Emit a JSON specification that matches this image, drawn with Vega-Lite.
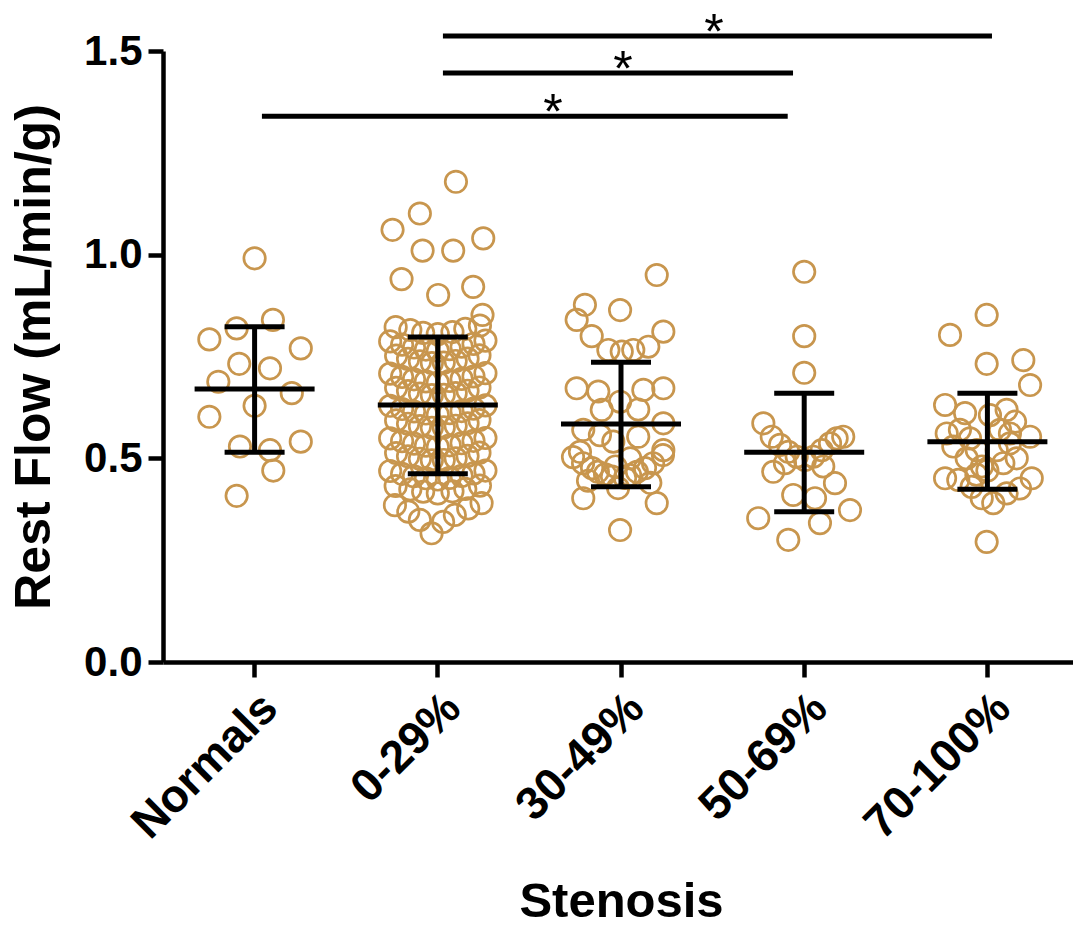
{
  "$schema": "https://vega.github.io/schema/vega-lite/v6.json",
  "width": 916,
  "height": 611,
  "autosize": {"type": "none"},
  "padding": {"left": 163, "top": 51, "right": 0, "bottom": 266},
  "background": "white",
  "config": {
    "view": {"stroke": null},
    "font": "Liberation Sans"
  },
  "datasets": {
    "pts": [
      {"g": "Normals", "j": 0.0, "v": 0.991},
      {"g": "Normals", "j": 0.10, "v": 0.840},
      {"g": "Normals", "j": -0.098, "v": 0.819},
      {"g": "Normals", "j": -0.247, "v": 0.792},
      {"g": "Normals", "j": 0.252, "v": 0.770},
      {"g": "Normals", "j": -0.084, "v": 0.732},
      {"g": "Normals", "j": 0.084, "v": 0.721},
      {"g": "Normals", "j": -0.198, "v": 0.688},
      {"g": "Normals", "j": 0.203, "v": 0.660},
      {"g": "Normals", "j": 0.0, "v": 0.629},
      {"g": "Normals", "j": -0.247, "v": 0.602},
      {"g": "Normals", "j": 0.252, "v": 0.541},
      {"g": "Normals", "j": -0.08, "v": 0.529},
      {"g": "Normals", "j": 0.084, "v": 0.520},
      {"g": "Normals", "j": 0.102, "v": 0.470},
      {"g": "Normals", "j": -0.098, "v": 0.408},

      {"g": "0-29%", "j": 0.099, "v": 1.179},
      {"g": "0-29%", "j": -0.098, "v": 1.101},
      {"g": "0-29%", "j": -0.247, "v": 1.061},
      {"g": "0-29%", "j": 0.248, "v": 1.040},
      {"g": "0-29%", "j": -0.083, "v": 1.010},
      {"g": "0-29%", "j": 0.084, "v": 1.010},
      {"g": "0-29%", "j": -0.198, "v": 0.940},
      {"g": "0-29%", "j": 0.193, "v": 0.921},
      {"g": "0-29%", "j": 0.002, "v": 0.901},
      {"g": "0-29%", "j": 0.244, "v": 0.852},
      {"g": "0-29%", "j": -0.23, "v": 0.822},
      {"g": "0-29%", "j": -0.15, "v": 0.815},
      {"g": "0-29%", "j": -0.08, "v": 0.808},
      {"g": "0-29%", "j": 0.0, "v": 0.805},
      {"g": "0-29%", "j": 0.08, "v": 0.810},
      {"g": "0-29%", "j": 0.15, "v": 0.818},
      {"g": "0-29%", "j": 0.23, "v": 0.826},
      {"g": "0-29%", "j": -0.26, "v": 0.787},
      {"g": "0-29%", "j": -0.195, "v": 0.779},
      {"g": "0-29%", "j": -0.13, "v": 0.772},
      {"g": "0-29%", "j": -0.065, "v": 0.767},
      {"g": "0-29%", "j": 0.0, "v": 0.764},
      {"g": "0-29%", "j": 0.065, "v": 0.768},
      {"g": "0-29%", "j": 0.13, "v": 0.774},
      {"g": "0-29%", "j": 0.195, "v": 0.781},
      {"g": "0-29%", "j": 0.26, "v": 0.789},
      {"g": "0-29%", "j": -0.2275, "v": 0.752},
      {"g": "0-29%", "j": -0.1625, "v": 0.744},
      {"g": "0-29%", "j": -0.0975, "v": 0.738},
      {"g": "0-29%", "j": -0.0325, "v": 0.734},
      {"g": "0-29%", "j": 0.0325, "v": 0.735},
      {"g": "0-29%", "j": 0.0975, "v": 0.739},
      {"g": "0-29%", "j": 0.1625, "v": 0.745},
      {"g": "0-29%", "j": 0.2275, "v": 0.753},
      {"g": "0-29%", "j": -0.26, "v": 0.708},
      {"g": "0-29%", "j": -0.195, "v": 0.700},
      {"g": "0-29%", "j": -0.13, "v": 0.694},
      {"g": "0-29%", "j": -0.065, "v": 0.689},
      {"g": "0-29%", "j": 0.0, "v": 0.686},
      {"g": "0-29%", "j": 0.065, "v": 0.690},
      {"g": "0-29%", "j": 0.13, "v": 0.695},
      {"g": "0-29%", "j": 0.195, "v": 0.701},
      {"g": "0-29%", "j": 0.26, "v": 0.709},
      {"g": "0-29%", "j": -0.2275, "v": 0.673},
      {"g": "0-29%", "j": -0.1625, "v": 0.665},
      {"g": "0-29%", "j": -0.0975, "v": 0.659},
      {"g": "0-29%", "j": -0.0325, "v": 0.655},
      {"g": "0-29%", "j": 0.0325, "v": 0.656},
      {"g": "0-29%", "j": 0.0975, "v": 0.660},
      {"g": "0-29%", "j": 0.1625, "v": 0.666},
      {"g": "0-29%", "j": 0.2275, "v": 0.674},
      {"g": "0-29%", "j": -0.26, "v": 0.629},
      {"g": "0-29%", "j": -0.195, "v": 0.621},
      {"g": "0-29%", "j": -0.13, "v": 0.615},
      {"g": "0-29%", "j": -0.065, "v": 0.610},
      {"g": "0-29%", "j": 0.0, "v": 0.607},
      {"g": "0-29%", "j": 0.065, "v": 0.611},
      {"g": "0-29%", "j": 0.13, "v": 0.616},
      {"g": "0-29%", "j": 0.195, "v": 0.622},
      {"g": "0-29%", "j": 0.26, "v": 0.630},
      {"g": "0-29%", "j": -0.2275, "v": 0.593},
      {"g": "0-29%", "j": -0.1625, "v": 0.585},
      {"g": "0-29%", "j": -0.0975, "v": 0.579},
      {"g": "0-29%", "j": -0.0325, "v": 0.575},
      {"g": "0-29%", "j": 0.0325, "v": 0.576},
      {"g": "0-29%", "j": 0.0975, "v": 0.580},
      {"g": "0-29%", "j": 0.1625, "v": 0.586},
      {"g": "0-29%", "j": 0.2275, "v": 0.594},
      {"g": "0-29%", "j": -0.26, "v": 0.549},
      {"g": "0-29%", "j": -0.195, "v": 0.542},
      {"g": "0-29%", "j": -0.13, "v": 0.536},
      {"g": "0-29%", "j": -0.065, "v": 0.531},
      {"g": "0-29%", "j": 0.0, "v": 0.528},
      {"g": "0-29%", "j": 0.065, "v": 0.532},
      {"g": "0-29%", "j": 0.13, "v": 0.537},
      {"g": "0-29%", "j": 0.195, "v": 0.543},
      {"g": "0-29%", "j": 0.26, "v": 0.550},
      {"g": "0-29%", "j": -0.2275, "v": 0.513},
      {"g": "0-29%", "j": -0.1625, "v": 0.505},
      {"g": "0-29%", "j": -0.0975, "v": 0.499},
      {"g": "0-29%", "j": -0.0325, "v": 0.495},
      {"g": "0-29%", "j": 0.0325, "v": 0.496},
      {"g": "0-29%", "j": 0.0975, "v": 0.500},
      {"g": "0-29%", "j": 0.1625, "v": 0.506},
      {"g": "0-29%", "j": 0.2275, "v": 0.514},
      {"g": "0-29%", "j": -0.26, "v": 0.469},
      {"g": "0-29%", "j": -0.195, "v": 0.462},
      {"g": "0-29%", "j": -0.13, "v": 0.456},
      {"g": "0-29%", "j": -0.065, "v": 0.451},
      {"g": "0-29%", "j": 0.0, "v": 0.448},
      {"g": "0-29%", "j": 0.065, "v": 0.452},
      {"g": "0-29%", "j": 0.13, "v": 0.457},
      {"g": "0-29%", "j": 0.195, "v": 0.463},
      {"g": "0-29%", "j": 0.26, "v": 0.470},
      {"g": "0-29%", "j": -0.23, "v": 0.432},
      {"g": "0-29%", "j": -0.15, "v": 0.424},
      {"g": "0-29%", "j": -0.08, "v": 0.418},
      {"g": "0-29%", "j": 0.0, "v": 0.414},
      {"g": "0-29%", "j": 0.08, "v": 0.419},
      {"g": "0-29%", "j": 0.15, "v": 0.425},
      {"g": "0-29%", "j": 0.23, "v": 0.433},
      {"g": "0-29%", "j": -0.234, "v": 0.385},
      {"g": "0-29%", "j": -0.161, "v": 0.369},
      {"g": "0-29%", "j": -0.098, "v": 0.349},
      {"g": "0-29%", "j": -0.034, "v": 0.316},
      {"g": "0-29%", "j": 0.029, "v": 0.344},
      {"g": "0-29%", "j": 0.093, "v": 0.361},
      {"g": "0-29%", "j": 0.166, "v": 0.377},
      {"g": "0-29%", "j": 0.239, "v": 0.390},

      {"g": "30-49%", "j": 0.195, "v": 0.950},
      {"g": "30-49%", "j": -0.197, "v": 0.877},
      {"g": "30-49%", "j": -0.005, "v": 0.864},
      {"g": "30-49%", "j": -0.242, "v": 0.840},
      {"g": "30-49%", "j": 0.231, "v": 0.811},
      {"g": "30-49%", "j": -0.16, "v": 0.800},
      {"g": "30-49%", "j": -0.069, "v": 0.766},
      {"g": "30-49%", "j": 0.004, "v": 0.762},
      {"g": "30-49%", "j": 0.067, "v": 0.766},
      {"g": "30-49%", "j": 0.149, "v": 0.774},
      {"g": "30-49%", "j": -0.242, "v": 0.672},
      {"g": "30-49%", "j": -0.124, "v": 0.664},
      {"g": "30-49%", "j": 0.122, "v": 0.668},
      {"g": "30-49%", "j": 0.231, "v": 0.672},
      {"g": "30-49%", "j": -0.005, "v": 0.639},
      {"g": "30-49%", "j": -0.105, "v": 0.619},
      {"g": "30-49%", "j": 0.094, "v": 0.620},
      {"g": "30-49%", "j": -0.206, "v": 0.570},
      {"g": "30-49%", "j": 0.231, "v": 0.586},
      {"g": "30-49%", "j": -0.115, "v": 0.557},
      {"g": "30-49%", "j": 0.094, "v": 0.553},
      {"g": "30-49%", "j": -0.042, "v": 0.541},
      {"g": "30-49%", "j": -0.224, "v": 0.516},
      {"g": "30-49%", "j": 0.231, "v": 0.520},
      {"g": "30-49%", "j": -0.262, "v": 0.503},
      {"g": "30-49%", "j": -0.207, "v": 0.488},
      {"g": "30-49%", "j": -0.158, "v": 0.476},
      {"g": "30-49%", "j": -0.126, "v": 0.467},
      {"g": "30-49%", "j": -0.087, "v": 0.461},
      {"g": "30-49%", "j": -0.049, "v": 0.455},
      {"g": "30-49%", "j": 0.229, "v": 0.508},
      {"g": "30-49%", "j": 0.175, "v": 0.488},
      {"g": "30-49%", "j": 0.131, "v": 0.476},
      {"g": "30-49%", "j": 0.087, "v": 0.467},
      {"g": "30-49%", "j": 0.049, "v": 0.459},
      {"g": "30-49%", "j": 0.022, "v": 0.452},
      {"g": "30-49%", "j": -0.016, "v": 0.427},
      {"g": "30-49%", "j": -0.206, "v": 0.402},
      {"g": "30-49%", "j": 0.195, "v": 0.390},
      {"g": "30-49%", "j": -0.005, "v": 0.324},
      {"g": "30-49%", "j": -0.18, "v": 0.445},
      {"g": "30-49%", "j": 0.16, "v": 0.440},
      {"g": "30-49%", "j": -0.03, "v": 0.480},
      {"g": "30-49%", "j": 0.05, "v": 0.500},

      {"g": "50-69%", "j": 0.0, "v": 0.958},
      {"g": "50-69%", "j": 0.0, "v": 0.800},
      {"g": "50-69%", "j": 0.0, "v": 0.710},
      {"g": "50-69%", "j": -0.223, "v": 0.586},
      {"g": "50-69%", "j": -0.177, "v": 0.553},
      {"g": "50-69%", "j": -0.132, "v": 0.533},
      {"g": "50-69%", "j": -0.087, "v": 0.516},
      {"g": "50-69%", "j": -0.041, "v": 0.504},
      {"g": "50-69%", "j": 0.213, "v": 0.553},
      {"g": "50-69%", "j": 0.177, "v": 0.549},
      {"g": "50-69%", "j": 0.141, "v": 0.537},
      {"g": "50-69%", "j": 0.096, "v": 0.520},
      {"g": "50-69%", "j": 0.05, "v": 0.504},
      {"g": "50-69%", "j": 0.004, "v": 0.496},
      {"g": "50-69%", "j": -0.169, "v": 0.467},
      {"g": "50-69%", "j": -0.105, "v": 0.488},
      {"g": "50-69%", "j": 0.104, "v": 0.480},
      {"g": "50-69%", "j": 0.168, "v": 0.439},
      {"g": "50-69%", "j": -0.06, "v": 0.410},
      {"g": "50-69%", "j": 0.059, "v": 0.402},
      {"g": "50-69%", "j": -0.251, "v": 0.353},
      {"g": "50-69%", "j": 0.25, "v": 0.373},
      {"g": "50-69%", "j": 0.086, "v": 0.341},
      {"g": "50-69%", "j": -0.087, "v": 0.300},

      {"g": "70-100%", "j": -0.004, "v": 0.852},
      {"g": "70-100%", "j": -0.204, "v": 0.803},
      {"g": "70-100%", "j": -0.004, "v": 0.732},
      {"g": "70-100%", "j": 0.196, "v": 0.741},
      {"g": "70-100%", "j": 0.233, "v": 0.680},
      {"g": "70-100%", "j": -0.231, "v": 0.631},
      {"g": "70-100%", "j": -0.122, "v": 0.611},
      {"g": "70-100%", "j": 0.014, "v": 0.606},
      {"g": "70-100%", "j": 0.105, "v": 0.619},
      {"g": "70-100%", "j": 0.151, "v": 0.590},
      {"g": "70-100%", "j": -0.222, "v": 0.561},
      {"g": "70-100%", "j": -0.15, "v": 0.570},
      {"g": "70-100%", "j": -0.095, "v": 0.549},
      {"g": "70-100%", "j": 0.069, "v": 0.570},
      {"g": "70-100%", "j": 0.123, "v": 0.561},
      {"g": "70-100%", "j": 0.233, "v": 0.553},
      {"g": "70-100%", "j": -0.186, "v": 0.529},
      {"g": "70-100%", "j": -0.058, "v": 0.520},
      {"g": "70-100%", "j": 0.051, "v": 0.520},
      {"g": "70-100%", "j": 0.123, "v": 0.537},
      {"g": "70-100%", "j": -0.113, "v": 0.500},
      {"g": "70-100%", "j": 0.087, "v": 0.488},
      {"g": "70-100%", "j": -0.231, "v": 0.451},
      {"g": "70-100%", "j": -0.159, "v": 0.447},
      {"g": "70-100%", "j": -0.086, "v": 0.430},
      {"g": "70-100%", "j": -0.031, "v": 0.402},
      {"g": "70-100%", "j": 0.032, "v": 0.390},
      {"g": "70-100%", "j": 0.105, "v": 0.414},
      {"g": "70-100%", "j": 0.178, "v": 0.426},
      {"g": "70-100%", "j": 0.242, "v": 0.451},
      {"g": "70-100%", "j": -0.004, "v": 0.295},
      {"g": "70-100%", "j": -0.03, "v": 0.480},
      {"g": "70-100%", "j": 0.0, "v": 0.470},
      {"g": "70-100%", "j": 0.16, "v": 0.500},
      {"g": "70-100%", "j": -0.06, "v": 0.460}
    ],
    "stats": [
      {"g": "Normals", "mean": 0.670, "lo": 0.515, "hi": 0.823},
      {"g": "0-29%", "mean": 0.631, "lo": 0.462, "hi": 0.798},
      {"g": "30-49%", "mean": 0.584, "lo": 0.430, "hi": 0.736},
      {"g": "50-69%", "mean": 0.515, "lo": 0.369, "hi": 0.660},
      {"g": "70-100%", "mean": 0.541, "lo": 0.424, "hi": 0.660}
    ],
    "sig": [
      {"x1": 0.54, "x2": 3.41, "xs": 2.129, "y": 1.34, "label": "*"},
      {"x1": 1.528, "x2": 3.439, "xs": 2.511, "y": 1.446, "label": "*"},
      {"x1": 1.528, "x2": 4.525, "xs": 3.008, "y": 1.537, "label": "*"}
    ]
  },
  "layer": [
    {
      "layer": [
        {
          "data": {"name": "pts"},
          "mark": {"type": "point", "shape": "circle", "filled": false, "size": 460, "strokeWidth": 2.7, "color": "#C8964E", "opacity": 1},
          "encoding": {
            "x": {"field": "g", "type": "nominal", "sort": ["Normals", "0-29%", "30-49%", "50-69%", "70-100%"], "title": "Stenosis",
                  "scale": {"paddingInner": 0, "paddingOuter": 0},
                  "axis": {"labelAngle": -45, "labelPadding": 8, "titlePadding": 30, "labelLimit": 0,
                           "grid": false, "domainColor": "black", "domainWidth": 4.5, "tickColor": "black", "tickWidth": 4.5, "tickSize": 15,
                           "labelFont": "Liberation Sans", "labelFontWeight": "bold", "labelFontSize": 46, "labelColor": "black",
                           "titleFont": "Liberation Sans", "titleFontWeight": "bold", "titleFontSize": 49, "titleColor": "black"}},
            "xOffset": {"field": "j", "type": "quantitative", "scale": {"domain": [-0.5, 0.5]}},
            "y": {"field": "v", "type": "quantitative", "title": "Rest Flow (mL/min/g)",
                  "scale": {"domain": [0, 1.5], "nice": false},
                  "axis": {"values": [0, 0.5, 1.0, 1.5], "format": ".1f", "labelPadding": 6, "titlePadding": 24,
                           "grid": false, "domainColor": "black", "domainWidth": 4.5, "tickColor": "black", "tickWidth": 4.5, "tickSize": 15,
                           "labelFont": "Liberation Sans", "labelFontWeight": "bold", "labelFontSize": 42, "labelColor": "black",
                           "titleFont": "Liberation Sans", "titleFontWeight": "bold", "titleFontSize": 50, "titleColor": "black"}}
          }
        },
        {
          "data": {"name": "stats"},
          "mark": {"type": "rule", "strokeWidth": 5, "color": "black"},
          "encoding": {
            "x": {"field": "g", "type": "nominal", "sort": ["Normals", "0-29%", "30-49%", "50-69%", "70-100%"], "title": "Stenosis"},
            "y": {"field": "lo", "type": "quantitative", "title": "Rest Flow (mL/min/g)", "scale": {"domain": [0, 1.5], "nice": false}},
            "y2": {"field": "hi"}
          }
        },
        {
          "data": {"name": "stats"},
          "mark": {"type": "tick", "size": 120, "thickness": 5, "color": "black", "opacity": 1, "orient": "horizontal"},
          "encoding": {
            "x": {"field": "g", "type": "nominal", "sort": ["Normals", "0-29%", "30-49%", "50-69%", "70-100%"], "title": "Stenosis"},
            "y": {"field": "mean", "type": "quantitative", "title": "Rest Flow (mL/min/g)", "scale": {"domain": [0, 1.5], "nice": false}}
          }
        },
        {
          "data": {"name": "stats"},
          "mark": {"type": "tick", "size": 60, "thickness": 5, "color": "black", "opacity": 1, "orient": "horizontal"},
          "encoding": {
            "x": {"field": "g", "type": "nominal", "sort": ["Normals", "0-29%", "30-49%", "50-69%", "70-100%"], "title": "Stenosis"},
            "y": {"field": "lo", "type": "quantitative", "title": "Rest Flow (mL/min/g)", "scale": {"domain": [0, 1.5], "nice": false}}
          }
        },
        {
          "data": {"name": "stats"},
          "mark": {"type": "tick", "size": 60, "thickness": 5, "color": "black", "opacity": 1, "orient": "horizontal"},
          "encoding": {
            "x": {"field": "g", "type": "nominal", "sort": ["Normals", "0-29%", "30-49%", "50-69%", "70-100%"], "title": "Stenosis"},
            "y": {"field": "hi", "type": "quantitative", "title": "Rest Flow (mL/min/g)", "scale": {"domain": [0, 1.5], "nice": false}}
          }
        }
      ]
    },
    {
      "data": {"name": "sig"},
      "layer": [
        {
          "mark": {"type": "rule", "strokeWidth": 5, "color": "black"},
          "encoding": {
            "x": {"field": "x1", "type": "quantitative", "scale": {"domain": [0, 5], "nice": false}, "axis": null},
            "x2": {"field": "x2"},
            "y": {"field": "y", "type": "quantitative", "title": "Rest Flow (mL/min/g)", "scale": {"domain": [0, 1.5], "nice": false}}
          }
        },
        {
          "mark": {"type": "text", "fontSize": 50, "font": "Liberation Sans", "color": "black", "baseline": "alphabetic", "align": "center", "dy": 13},
          "encoding": {
            "x": {"field": "xs", "type": "quantitative", "scale": {"domain": [0, 5], "nice": false}, "axis": null},
            "y": {"field": "y", "type": "quantitative", "title": "Rest Flow (mL/min/g)", "scale": {"domain": [0, 1.5], "nice": false}},
            "text": {"field": "label"}
          }
        }
      ]
    }
  ],
  "resolve": {"scale": {"x": "independent"}}
}
